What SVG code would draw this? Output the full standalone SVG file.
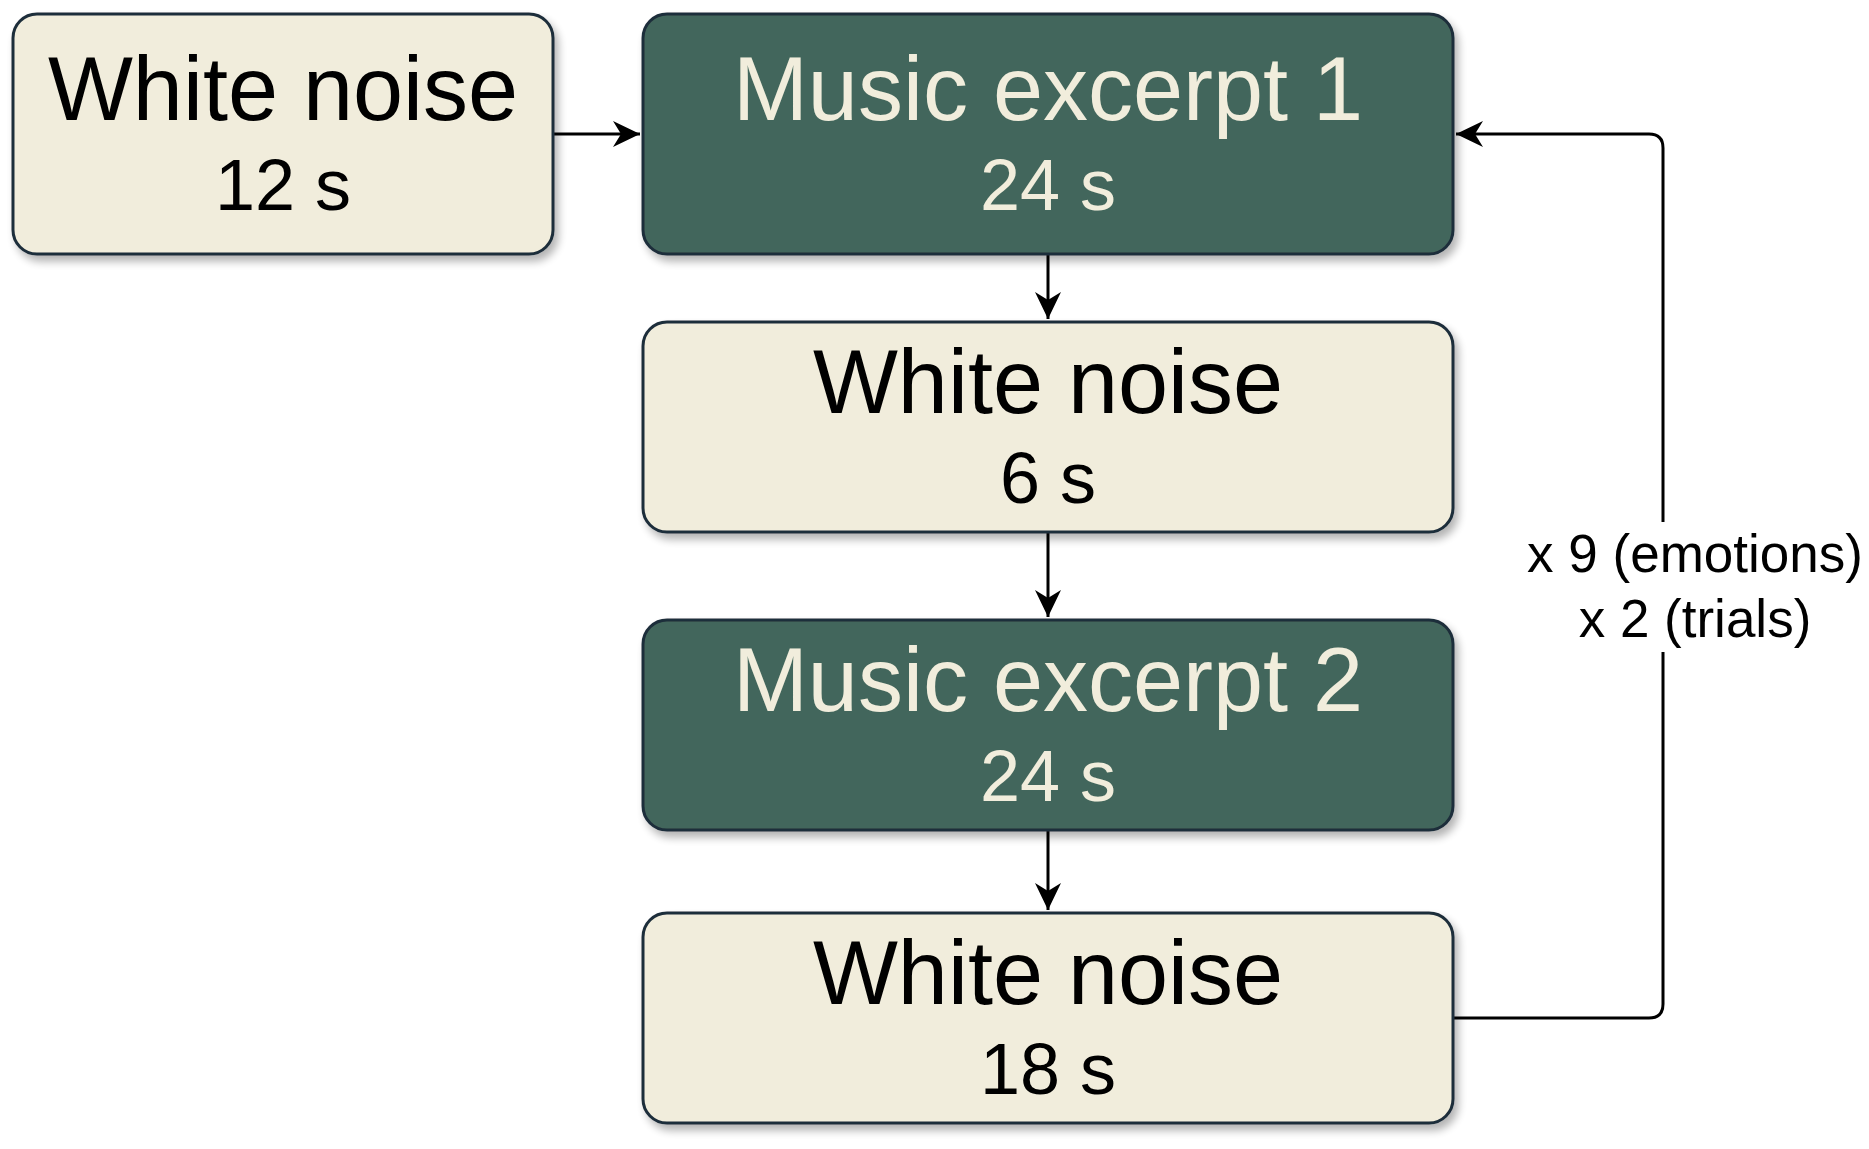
<svg xmlns="http://www.w3.org/2000/svg" width="1869" height="1149" viewBox="0 0 1869 1149">
<style>
.box{stroke:#1f2d3a;stroke-width:3}
.light{fill:#f1eddc}
.dark{fill:#43665b}
.t{font-family:"Liberation Sans",Arial,sans-serif;text-anchor:middle}
.big{font-size:90px}
.small{font-size:72px}
.tl{fill:#000000}
.td{fill:#f1eddc}
.edge{fill:none;stroke:#000000;stroke-width:3}
.lbl{font-family:"Liberation Sans",Arial,sans-serif;font-size:53px;text-anchor:middle;fill:#000000}
</style>
<defs>
<filter id="sh" x="-10%" y="-10%" width="130%" height="140%">
<feGaussianBlur in="SourceAlpha" stdDeviation="4"/>
<feOffset dx="4" dy="6" result="b"/>
<feComponentTransfer><feFuncA type="linear" slope="0.3"/></feComponentTransfer>
<feMerge><feMergeNode/><feMergeNode in="SourceGraphic"/></feMerge>
</filter>
<marker id="arr" markerUnits="userSpaceOnUse" markerWidth="30" markerHeight="30" viewBox="-28 -15 30 30" refX="0" refY="0" orient="auto">
<path d="M0,0 L-27,-13 L-19,0 L-27,13 Z" fill="#000000"/>
</marker>
</defs>
<g id="connectors">
<path class="edge" d="M553,134 L640,134" marker-end="url(#arr)"/>
<path class="edge" d="M1048,254 L1048,319" marker-end="url(#arr)"/>
<path class="edge" d="M1048,532 L1048,617" marker-end="url(#arr)"/>
<path class="edge" d="M1048,830 L1048,910" marker-end="url(#arr)"/>
<path class="edge" d="M1453,1018 L1649,1018 Q1663,1018 1663,1004 L1663,148 Q1663,134 1649,134 L1456,134" marker-end="url(#arr)"/>
<rect x="1520" y="522" width="348" height="130" fill="#ffffff"/>
<text class="lbl" x="1695" y="572">x 9 (emotions)</text>
<text class="lbl" x="1695" y="637">x 2 (trials)</text>
</g>
<g id="node-wn12" filter="url(#sh)">
<rect class="box light" x="13" y="14" width="540" height="240" rx="24"/>
<text class="t big tl" x="283" y="120">White noise</text>
<text class="t small tl" x="283" y="210">12 s</text>
</g>
<g id="node-music1" filter="url(#sh)">
<rect class="box dark" x="643" y="14" width="810" height="240" rx="24"/>
<text class="t big td" x="1048" y="120">Music excerpt 1</text>
<text class="t small td" x="1048" y="210">24 s</text>
</g>
<g id="node-wn6" filter="url(#sh)">
<rect class="box light" x="643" y="322" width="810" height="210" rx="24"/>
<text class="t big tl" x="1048" y="413">White noise</text>
<text class="t small tl" x="1048" y="503">6 s</text>
</g>
<g id="node-music2" filter="url(#sh)">
<rect class="box dark" x="643" y="620" width="810" height="210" rx="24"/>
<text class="t big td" x="1048" y="711">Music excerpt 2</text>
<text class="t small td" x="1048" y="801">24 s</text>
</g>
<g id="node-wn18" filter="url(#sh)">
<rect class="box light" x="643" y="913" width="810" height="210" rx="24"/>
<text class="t big tl" x="1048" y="1004">White noise</text>
<text class="t small tl" x="1048" y="1094">18 s</text>
</g>
</svg>
